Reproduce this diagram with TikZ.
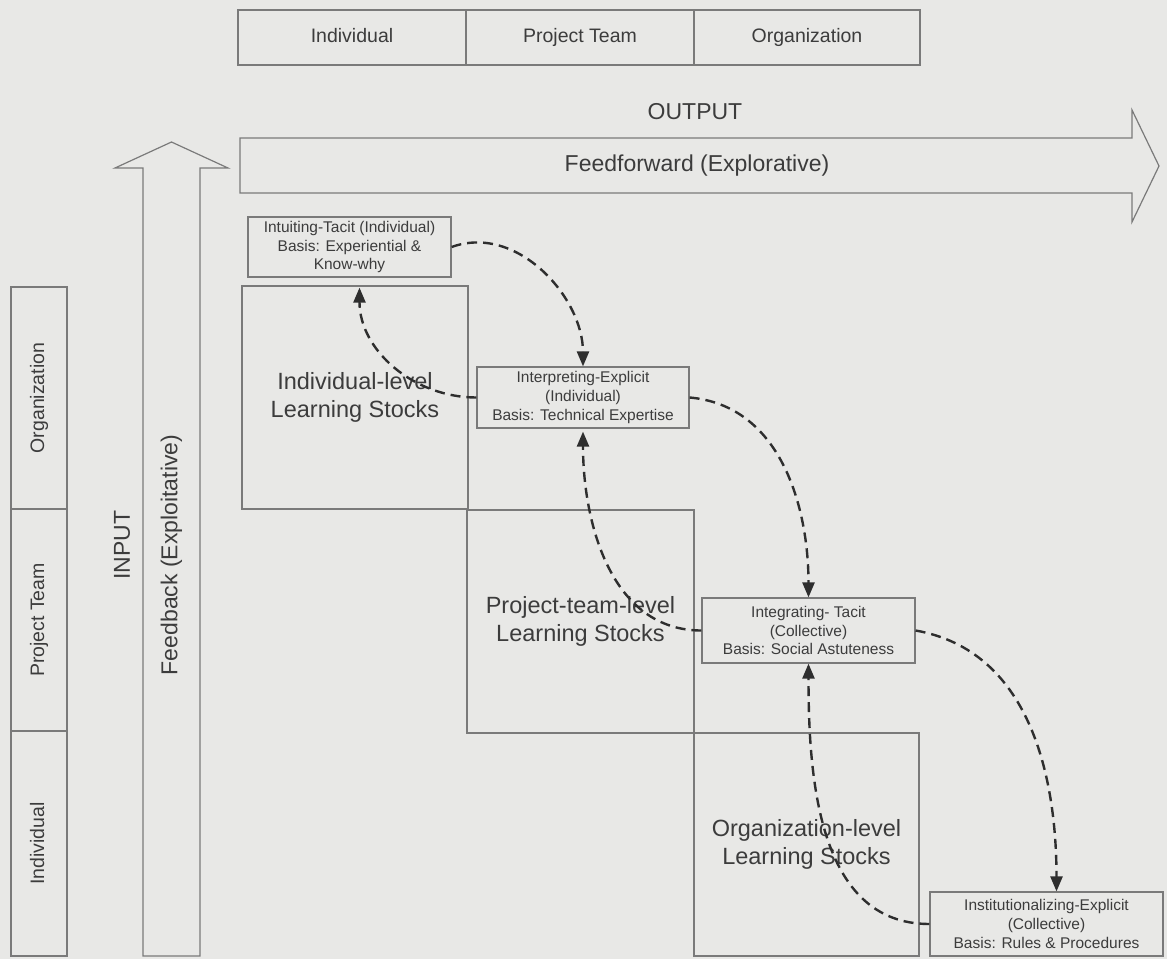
\documentclass[tikz,border=0pt]{standalone}
\usepackage{fontspec}
\setmainfont{Liberation Sans}
\usetikzlibrary{arrows.meta}
\definecolor{paper}{HTML}{E8E8E6}
\definecolor{ink}{HTML}{3C3C3C}
\definecolor{rule}{HTML}{7A7A7A}
\definecolor{flow}{HTML}{2E2E2E}
\begin{document}
\begin{tikzpicture}[x=1pt,y=-1pt,
  frame/.style={draw=rule, line width=1.2pt},
  cell/.style={frame, inner sep=0pt, text=ink, text height=14pt, text depth=4pt,
    font=\fontsize{19.5}{23}\selectfont},
  procbox/.style={frame, inner sep=0pt, align=center, text=ink, font=\fontsize{15.5}{18.7}\selectfont},
  stockbox/.style={frame, inner sep=0pt, align=center, text=ink, font=\fontsize{23.5}{28}\selectfont},
  flowlabel/.style={text=ink, inner sep=0pt, font=\fontsize{23}{27}\selectfont},
  flowarrow/.style={draw=flow, line width=2.4pt, dash pattern=on 10pt off 6pt,
    -{Triangle[length=15pt,width=12pt]}},
]
% page
\fill[paper] (0,0) rectangle (1167,959);
\useasboundingbox (0,0) rectangle (1167,959);

% level headers along the top
\node[cell, minimum width=228pt, minimum height=55pt] (topind) at (352,37.5) {Individual};
\node[cell, minimum width=228pt, minimum height=55pt] (toppt) at (580,37.5) {Project Team};
\node[cell, minimum width=226pt, minimum height=55pt] (toporg) at (807,37.5) {Organization};

% level headers down the left side
\node[cell, rotate=90, minimum width=222pt, minimum height=56pt] (leftorg) at (39,398) {Organization};
\node[cell, rotate=90, minimum width=222pt, minimum height=56pt] (leftpt) at (39,620) {Project Team};
\node[cell, rotate=90, minimum width=225pt, minimum height=56pt] (leftind) at (39,843.5) {Individual};

% feedforward block arrow
\draw[frame] (240,138) -- (1132,138) -- (1132,110) -- (1159,166) -- (1132,222)
  -- (1132,193) -- (240,193) -- cycle;
\node[flowlabel] (output) at (695,112) {OUTPUT};
\node[flowlabel] (ffwd) at (697,166) {Feedforward (Explorative)};

% feedback block arrow
\draw[frame] (143,956) -- (143,168) -- (115,168) -- (171.5,142) -- (228,168)
  -- (200,168) -- (200,956) -- cycle;
\node[flowlabel, rotate=90] (input) at (122,545) {INPUT};
\node[flowlabel, rotate=90] (fback) at (171.5,555) {Feedback (Exploitative)};

% learning stocks
\node[stockbox, minimum width=226pt, minimum height=223pt] (stockind) at (355,397.5) {Individual-level\\Learning Stocks};
\node[stockbox, minimum width=227pt, minimum height=223pt] (stockpt) at (580.5,621.5) {Project-team-level\\Learning Stocks};
\node[stockbox, minimum width=225pt, minimum height=223pt] (stockorg) at (806.5,844.5) {Organization-level\\Learning Stocks};

% learning processes
\node[procbox, minimum width=203pt, minimum height=60pt] (intu) at (349.5,247) {Intuiting-Tacit (Individual)\\Basis: Experiential \&\\Know-why};
\node[procbox, minimum width=212pt, minimum height=61pt] (interp) at (583,397.5) {Interpreting-Explicit\\(Individual)\\Basis: Technical Expertise};
\node[procbox, minimum width=213pt, minimum height=65pt] (integ) at (808.5,630.5) {Integrating- Tacit\\(Collective)\\Basis: Social Astuteness};
\node[procbox, minimum width=233pt, minimum height=64pt] (inst) at (1046.5,924) {Institutionalizing-Explicit\\(Collective)\\Basis: Rules \& Procedures};

% forward and backward flows between processes
\draw[flowarrow] (intu.east) to[out=20,in=90] (interp.north);
\draw[flowarrow] (interp.west) to[out=180,in=-90] ([xshift=10pt,yshift=-10pt]intu.south);
\draw[flowarrow] (interp.east) to[out=-5,in=90] (integ.north);
\draw[flowarrow] (integ.west) to[out=180,in=-90] ([yshift=-3pt]interp.south);
\draw[flowarrow] (integ.east) to[out=-10,in=90] ([xshift=10pt]inst.north);
\draw[flowarrow] (inst.west) to[out=180,in=-90] (integ.south);
\end{tikzpicture}
\end{document}
